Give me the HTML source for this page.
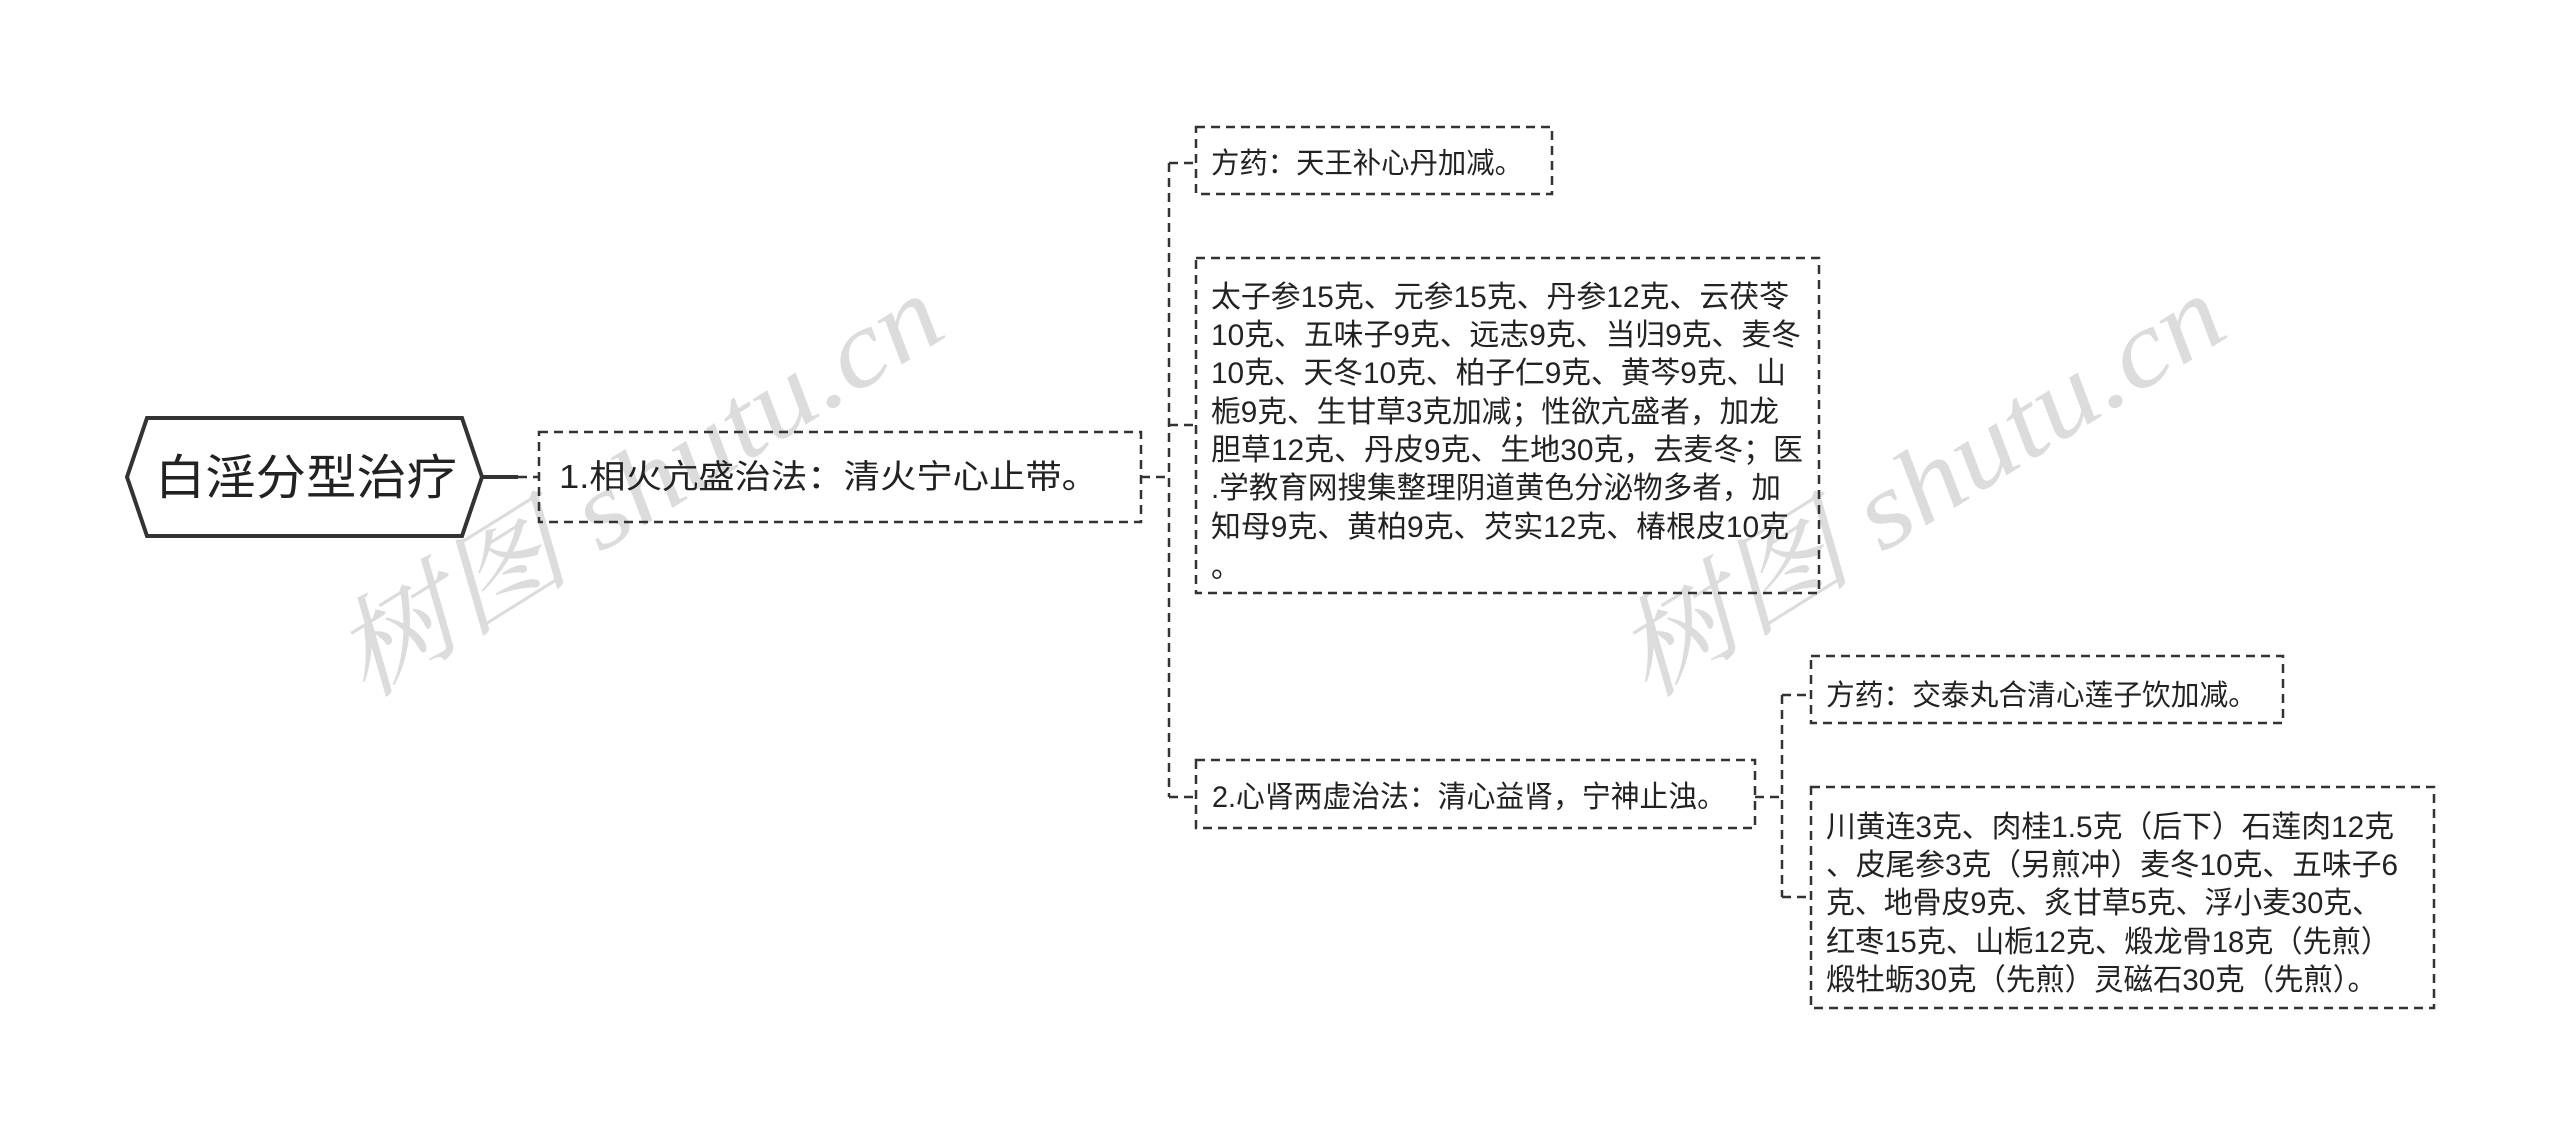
<!DOCTYPE html>
<html><head><meta charset="utf-8"><style>
html,body{margin:0;padding:0;background:#fff;}
svg{display:block;}
text{font-family:"Liberation Sans","Noto Sans CJK SC",sans-serif;fill:#222;}
.wm{font-family:"Liberation Serif","Noto Serif CJK SC",serif;fill:#dcdcdc;font-style:italic;}
</style></head><body>
<svg width="2560" height="1135" viewBox="0 0 2560 1135" xmlns="http://www.w3.org/2000/svg">
<text class="wm" font-size="108" transform="translate(365,700) rotate(-32)" textLength="690" lengthAdjust="spacingAndGlyphs">树图 shutu.cn</text>
<text class="wm" font-size="108" transform="translate(1647,700) rotate(-32)" textLength="690" lengthAdjust="spacingAndGlyphs">树图 shutu.cn</text>
<g fill="none" stroke="#333" stroke-width="2.5" stroke-dasharray="9,6">
  <line x1="518" y1="477" x2="539" y2="477"/>
  <line x1="1141" y1="477" x2="1169" y2="477"/>
  <line x1="1169" y1="163" x2="1169" y2="797"/>
  <line x1="1169" y1="163" x2="1196" y2="163"/>
  <line x1="1169" y1="425" x2="1196" y2="425"/>
  <line x1="1169" y1="797" x2="1196" y2="797"/>
  <line x1="1755" y1="797" x2="1782" y2="797"/>
  <line x1="1782" y1="695" x2="1782" y2="897"/>
  <line x1="1782" y1="695" x2="1811" y2="695"/>
  <line x1="1782" y1="897" x2="1811" y2="897"/>
  <rect x="539" y="432" width="602" height="90"/>
  <rect x="1196" y="127" width="356" height="67"/>
  <rect x="1196" y="258" width="623" height="335"/>
  <rect x="1196" y="760" width="559" height="68"/>
  <rect x="1811" y="656" width="472" height="67"/>
  <rect x="1811" y="787" width="623" height="221"/>
</g>
<line x1="482" y1="477" x2="518" y2="477" stroke="#333" stroke-width="4"/>
<polygon points="127,477 147,418 462,418 482,477 462,536 147,536" fill="#fff" stroke="#333" stroke-width="4"/>
<text x="155" y="494" font-size="48" textLength="302" lengthAdjust="spacingAndGlyphs">白淫分型治疗</text>
<text x="559" y="488" font-size="33" textLength="539" lengthAdjust="spacingAndGlyphs">1.相火亢盛治法：清火宁心止带。</text>
<text x="1211" y="173" font-size="29" textLength="312" lengthAdjust="spacingAndGlyphs">方药：天王补心丹加减。</text>
<g font-size="30">
<text x="1211" y="307" textLength="578" lengthAdjust="spacingAndGlyphs">太子参15克、元参15克、丹参12克、云茯苓</text>
<text x="1211" y="345" textLength="590" lengthAdjust="spacingAndGlyphs">10克、五味子9克、远志9克、当归9克、麦冬</text>
<text x="1211" y="383" textLength="575" lengthAdjust="spacingAndGlyphs">10克、天冬10克、柏子仁9克、黄芩9克、山</text>
<text x="1211" y="422" textLength="568" lengthAdjust="spacingAndGlyphs">栀9克、生甘草3克加减；性欲亢盛者，加龙</text>
<text x="1211" y="460" textLength="592" lengthAdjust="spacingAndGlyphs">胆草12克、丹皮9克、生地30克，去麦冬；医</text>
<text x="1211" y="498" textLength="570" lengthAdjust="spacingAndGlyphs">.学教育网搜集整理阴道黄色分泌物多者，加</text>
<text x="1211" y="537" textLength="578" lengthAdjust="spacingAndGlyphs">知母9克、黄柏9克、芡实12克、椿根皮10克</text>
<text x="1211" y="577">。</text>
</g>
<text x="1212" y="807" font-size="30" textLength="514" lengthAdjust="spacingAndGlyphs">2.心肾两虚治法：清心益肾，宁神止浊。</text>
<text x="1826" y="705" font-size="29" textLength="431" lengthAdjust="spacingAndGlyphs">方药：交泰丸合清心莲子饮加减。</text>
<g font-size="30">
<text x="1826" y="837" textLength="568" lengthAdjust="spacingAndGlyphs">川黄连3克、肉桂1.5克（后下）石莲肉12克</text>
<text x="1826" y="875" textLength="572" lengthAdjust="spacingAndGlyphs">、皮尾参3克（另煎冲）麦冬10克、五味子6</text>
<text x="1826" y="913" textLength="555" lengthAdjust="spacingAndGlyphs">克、地骨皮9克、炙甘草5克、浮小麦30克、</text>
<text x="1826" y="952" textLength="564" lengthAdjust="spacingAndGlyphs">红枣15克、山栀12克、煅龙骨18克（先煎）</text>
<text x="1826" y="990" textLength="551" lengthAdjust="spacingAndGlyphs">煅牡蛎30克（先煎）灵磁石30克（先煎）。</text>
</g>
</svg>
</body></html>
